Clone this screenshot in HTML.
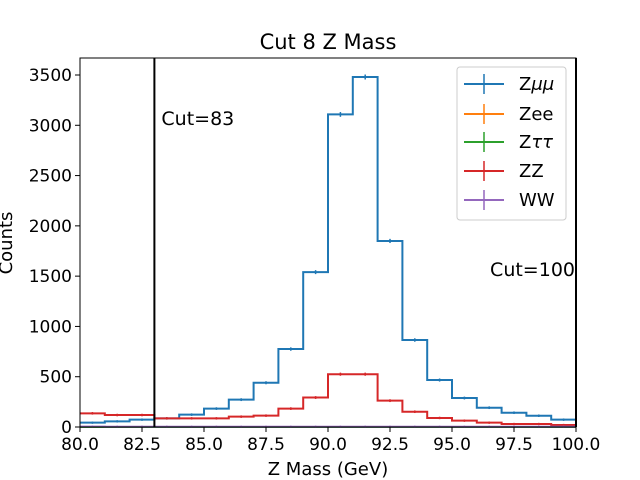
<!DOCTYPE html>
<html><head><meta charset="utf-8"><style>
html,body{margin:0;padding:0;background:#fff;}
svg{display:block;font-family:"DejaVu Sans","Liberation Sans",sans-serif;}
</style></head><body>
<svg id="chart" width="640" height="480" xmlns="http://www.w3.org/2000/svg">
<rect x="0" y="0" width="640" height="480" fill="#fff"/>
<g id="plot"></g>
<g id="axes"></g>
<text x="328" y="49" font-size="21" text-anchor="middle">Cut 8 Z Mass</text>
<text x="328" y="475" font-size="18" text-anchor="middle">Z Mass (GeV)</text>
<text x="12" y="243" font-size="18" text-anchor="middle" transform="rotate(-90 12 243)">Counts</text>
<g id="legend">
<rect x="457" y="67" width="109" height="153" rx="3" fill="#fff" fill-opacity="0.8" stroke="#ccc"/>
</g>
</svg>
<script>
const binEdgesStart = 80;
const binWidth = 1;
const zmumu = [43,56,73,86,123,183,272,440,775,1540,3108,3480,1850,865,467,288,192,142,112,73];
const zee = [0,0,0,0,0,0,0,0,0,0,0,0,0,0,0,0,0,0,0,0];
const ztautau = [0,0,0,0,0,0,0,0,0,0,0,0,0,0,0,0,0,0,0,0];
const zz = [136,119,119,86,86,86,103,113,183,293,525,525,262,152,90,63,43,30,30,20];
const ww = [4,3,3,3,3,3,3,3,3,3,3,3,3,3,3,3,3,3,3,3];
const xTicks = [80,82.5,85,87.5,90,92.5,95,97.5,100];
const xTickLabels = ["80.0","82.5","85.0","87.5","90.0","92.5","95.0","97.5","100.0"];
const yTicks = [0,500,1000,1500,2000,2500,3000,3500];
const cuts = [83,100];
const cutLabels = ["Cut=83","Cut=100"];

const NS="http://www.w3.org/2000/svg";
const X0=80,X1=576,Y0=427,Yt=58;
const xs=v=>X0+(v-80)/20*(X1-X0);
const ys=v=>Y0-v*(352/3500);
function el(t,a,p){const e=document.createElementNS(NS,t);for(const k in a)e.setAttribute(k,a[k]);p.appendChild(e);return e;}
const plot=document.getElementById('plot'),axes=document.getElementById('axes');
const series=[[zmumu,'#1f77b4','zmumu'],[zee,'#ff7f0e','zee'],[ztautau,'#2ca02c','ztautau'],[zz,'#d62728','zz'],[ww,'#9467bd','ww']];
series.forEach(([d,c,n])=>{
  let p='';
  d.forEach((v,i)=>{const a=xs(binEdgesStart+i*binWidth),b=xs(binEdgesStart+(i+1)*binWidth);p+=(i?'L':'M')+a+','+ys(v)+'L'+b+','+ys(v);});
  const e=el('path',{d:p,fill:'none',stroke:c,'stroke-width':2},plot);
  
  
  d.forEach((v,i)=>{const cx=xs(binEdgesStart+(i+0.5)*binWidth);const er=Math.sqrt(v)*0.25;
    const t=el('line',{x1:cx,x2:cx,y1:ys(v+er)-1,y2:ys(Math.max(0,v-er))+1,stroke:c,'stroke-width':1.5},plot);
    
    });
});
cuts.forEach((c,i)=>{const l=el('line',{x1:xs(c),x2:xs(c),y1:Yt,y2:Y0,stroke:'#000','stroke-width':2},plot);
  
  
  const t=el('text',{x:i==0?xs(c)+7:xs(c)-1,y:i==0?125:276,'font-size':19,'text-anchor':i==0?'start':'end'},plot);
  t.textContent=cutLabels[i];
  
  });
const fr=el('rect',{x:X0,y:Yt,width:X1-X0,height:Y0-Yt,fill:'none',stroke:'#000','stroke-width':1},axes);


xTicks.forEach((v,i)=>{el('line',{x1:xs(v),x2:xs(v),y1:Y0,y2:Y0+5,stroke:'#000'},axes);
  const t=el('text',{x:xs(v),y:Y0+23,'font-size':17,'text-anchor':'middle'},axes);t.textContent=xTickLabels[i];
  
  });
yTicks.forEach(v=>{el('line',{x1:X0-5,x2:X0,y1:ys(v),y2:ys(v),stroke:'#000'},axes);
  const t=el('text',{x:X0-8,y:ys(v)+6,'font-size':17,'text-anchor':'end'},axes);t.textContent=v;
  
  });
const lg=document.getElementById('legend');
const names=[['Z','μμ'],['Zee',''],['Z','ττ'],['ZZ',''],['WW','']];const ly=[84,114,142,171,200];
series.forEach(([d,c,n],i)=>{const g=el('g',{},lg);
  
  
  el('line',{x1:464,x2:504,y1:ly[i],y2:ly[i],stroke:c,'stroke-width':2},g);
  el('line',{x1:484,x2:484,y1:ly[i]-10,y2:ly[i]+10,stroke:c,'stroke-width':1.5},g);
  const t=el('text',{x:519,y:ly[i]+6,'font-size':18},g);t.textContent=names[i][0];
  if(names[i][1]){const s=el('tspan',{'font-style':'italic'},t);s.textContent=names[i][1];}});
</script>
</body></html>
